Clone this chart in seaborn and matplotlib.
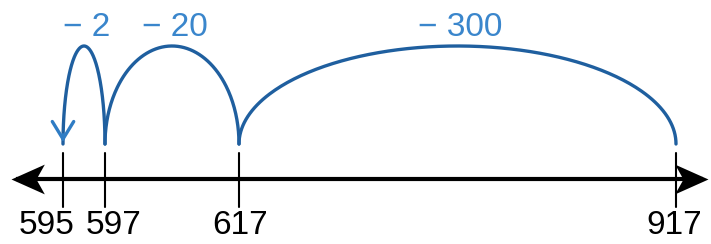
import numpy as np
import pandas as pd
import matplotlib
matplotlib.use("Agg")
import matplotlib.pyplot as plt
from matplotlib.path import Path
import seaborn as sns

# 数轴上的刻度（不按比例）
tick_values = [595, 597, 617, 917]
tick_labels = ["595", "597", "617", "917"]

# 每一跳：起点、终点、标签
jump_from = [917, 617, 597]
jump_to = [617, 597, 595]
jump_labels = ["\u2212 300", "\u2212 20", "\u2212 2"]

# 版面：刻度在画面中的位置（像素）及标签偏移
slot_x = [63, 105, 239, 676]
label_dx = [-16, 9, 1, -2]
W, H = 711, 244
line_y = 65
foot_y = 100
arc_h = 98

arc_color = "#1f5f9f"
label_color = "#3a86cc"


def to_x(v):
    return np.interp(v, tick_values, slot_x)


def arrow_marker(sign):
    # 燕尾形箭头，尖端在原点
    verts = [(0, 0), (sign * 2.8, 1.25), (sign * 2.1, 0), (sign * 2.8, -1.25), (0, 0)]
    codes = [Path.MOVETO, Path.LINETO, Path.LINETO, Path.LINETO, Path.CLOSEPOLY]
    return Path(verts, codes)


def main():
    sns.set_theme(style="white")
    plt.rcParams["font.family"] = ["Liberation Sans", "DejaVu Sans"]

    fig = plt.figure(figsize=(W / 100, H / 100), dpi=100)
    ax = fig.add_axes([0, 0, 1, 1])
    ax.set_xlim(0, W)
    ax.set_ylim(0, H)

    # 跳跃弧线
    rows = []
    for i, (a, b) in enumerate(zip(jump_from, jump_to)):
        xa, xb = to_x(a), to_x(b)
        t = np.linspace(0, np.pi, 200)
        xs = xa + (xb - xa) * (1 - np.cos(t)) / 2
        ys = foot_y + arc_h * np.sin(t)
        rows.append(pd.DataFrame({"x": xs, "y": ys, "jump": i}))
    arcs = pd.concat(rows)
    sns.lineplot(data=arcs, x="x", y="y", units="jump", estimator=None, sort=False,
                 color=arc_color, linewidth=2.4, ax=ax)

    # 最后一跳的箭头
    xe = to_x(jump_to[-1])
    ax.annotate("", xy=(xe, foot_y - 1), xytext=(xe, foot_y + 12),
                arrowprops=dict(arrowstyle="->,head_length=0.9,head_width=0.55",
                                color="#2f7cc4", lw=2.4, mutation_scale=14))

    # 跳跃标签
    for a, b, lab in zip(jump_from, jump_to, jump_labels):
        xc = (to_x(a) + to_x(b)) / 2
        ax.text(xc + 3, H - 27, lab, ha="center", va="center",
                fontsize=24, color=label_color)

    # 数轴
    ax.plot([16, W - 8], [line_y, line_y], color="black", lw=3.0, solid_capstyle="butt")
    ax.plot([11], [line_y], marker=arrow_marker(1), markersize=48, color="black", mew=0)
    ax.plot([W - 3], [line_y], marker=arrow_marker(-1), markersize=48, color="black", mew=0)
    for v, lab, dx in zip(tick_values, tick_labels, label_dx):
        x = to_x(v)
        ax.plot([x, x], [line_y - 28, line_y + 26], color="black", lw=1.5)
        ax.text(x + dx, 18, lab, ha="center", va="center", fontsize=24, color="black")

    ax.set_axis_off()
    fig.savefig("out.png", dpi=100)


if __name__ == "__main__":
    main()
